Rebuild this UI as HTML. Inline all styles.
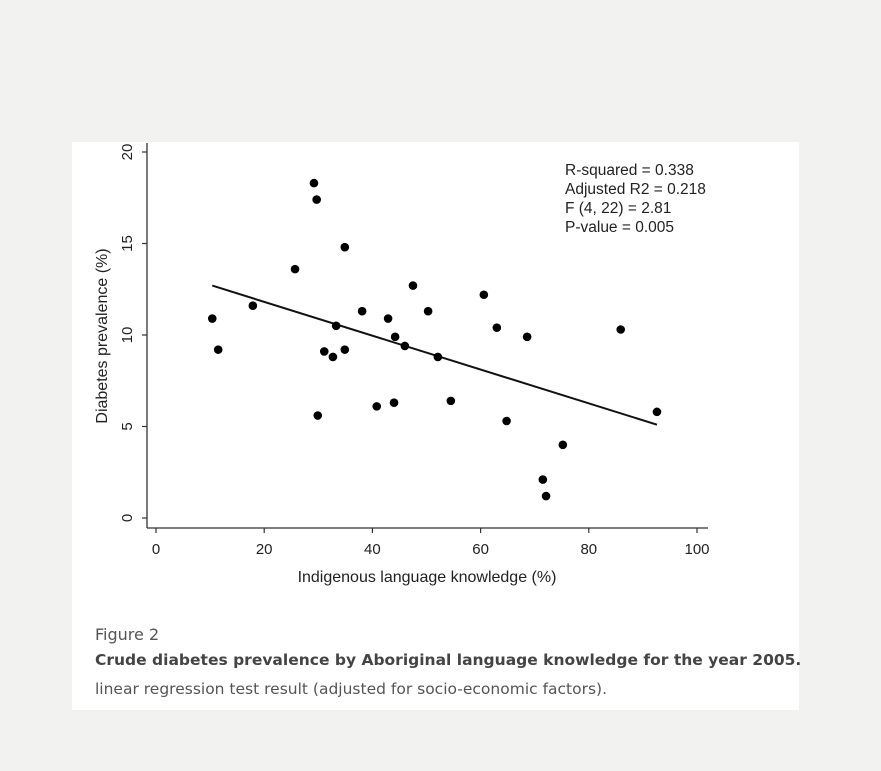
<!DOCTYPE html>
<html><head><meta charset="utf-8"><style>
body{margin:0;width:881px;height:771px;background:#f2f2f0;font-family:"Liberation Sans",sans-serif;overflow:hidden}
#panel{position:absolute;left:72px;top:142px;width:727px;height:568px;background:#fff}
.cap{position:absolute;left:95px;color:#555;font-family:"DejaVu Sans","Liberation Sans",sans-serif;white-space:nowrap}
</style></head><body>
<div id="panel"></div>
<svg id="chart" width="881" height="771" style="position:absolute;left:0;top:0"></svg>
<div class="cap" style="top:625px;font-size:16px;">Figure 2</div>
<div class="cap" style="top:651px;font-size:15.5px;font-weight:bold;color:#444">Crude diabetes prevalence by Aboriginal language knowledge for the year 2005.</div>
<div class="cap" style="top:680px;font-size:15.5px">linear regression test result (adjusted for socio-economic factors).</div>
<script>
const xs=[10.4,11.5,17.9,25.7,29.2,29.7,29.9,31.1,32.7,33.3,34.9,34.9,38.1,40.8,42.9,44.0,44.2,46.0,47.5,50.3,52.1,54.5,60.6,63.0,64.8,68.6,71.5,72.1,75.2,85.9,92.6];
const ys=[10.9,9.2,11.6,13.6,18.3,17.4,5.6,9.1,8.8,10.5,9.2,14.8,11.3,6.1,10.9,6.3,9.9,9.4,12.7,11.3,8.8,6.4,12.2,10.4,5.3,9.9,2.1,1.2,4.0,10.3,5.8];
const fitX=[10.4,92.6];
const fitY=[12.7,5.1];
const xTicks=[0,20,40,60,80,100];
const yTicks=[0,5,10,15,20];
const stats=["R-squared = 0.338","Adjusted R2 = 0.218","F (4, 22) = 2.81","P-value = 0.005"];
const X=v=>156+v*5.41, Y=v=>518-v*18.3;
const svg=document.getElementById('chart');
function el(t,a,txt){const e=document.createElementNS('http://www.w3.org/2000/svg',t);for(const k in a)e.setAttribute(k,a[k]);if(txt!==undefined)e.textContent=txt;svg.appendChild(e);return e;}
let e;
e=el('line',{x1:147,y1:143,x2:147,y2:528,stroke:'#333','stroke-width':1.3});


e=el('line',{x1:147,y1:528,x2:708,y2:528,stroke:'#333','stroke-width':1.3});


xTicks.forEach(t=>{
 e=el('line',{x1:X(t),y1:528,x2:X(t),y2:533,stroke:'#333','stroke-width':1.2});
 
 
 e=el('text',{x:X(t),y:554,'text-anchor':'middle','font-size':15,fill:'#222'},String(t));
 
 
});
yTicks.forEach(t=>{
 e=el('line',{x1:142,y1:Y(t),x2:147,y2:Y(t),stroke:'#333','stroke-width':1.2});
 
 
 e=el('text',{x:0,y:0,'text-anchor':'middle','font-size':15,fill:'#222',transform:`translate(132,${Y(t)}) rotate(-90)`},String(t));
 
 
});
e=el('text',{x:427,y:582,'text-anchor':'middle','font-size':16,fill:'#222'},'Indigenous language knowledge (%)');


e=el('text',{x:0,y:0,'text-anchor':'middle','font-size':16,fill:'#222',transform:'translate(107,336) rotate(-90)'},'Diabetes prevalence (%)');


e=el('line',{x1:X(fitX[0]),y1:Y(fitY[0]),x2:X(fitX[1]),y2:Y(fitY[1]),stroke:'#111','stroke-width':2});


xs.forEach((v,i)=>{
 e=el('circle',{cx:X(v),cy:Y(ys[i]),r:4.3,fill:'#000'});
 
 
});
stats.forEach((s,i)=>{
 e=el('text',{x:565,y:175+i*19,'font-size':15.5,fill:'#222'},s);
 
 
});
</script>
</body></html>
